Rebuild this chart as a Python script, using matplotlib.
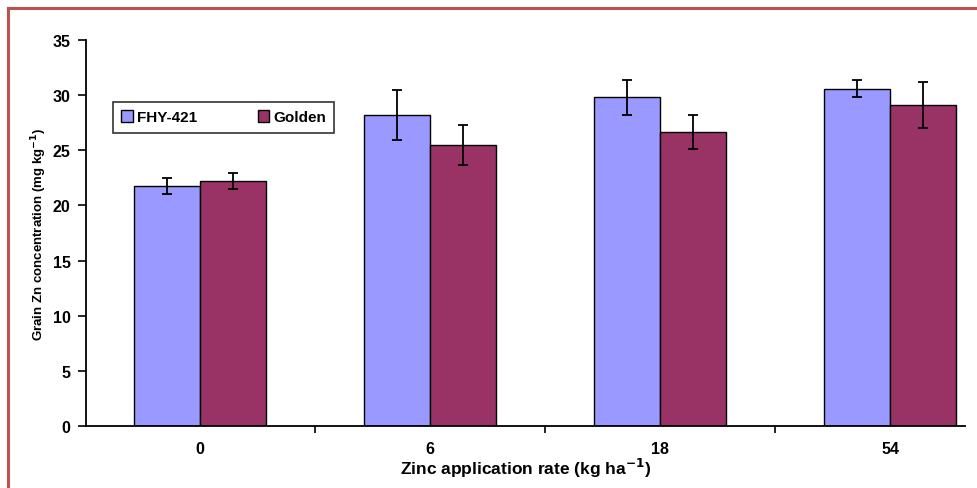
import matplotlib.pyplot as plt
import numpy as np
from matplotlib.lines import Line2D

# data
rates = ["0", "6", "18", "54"]
fhy421 = [21.8, 28.2, 29.8, 30.6]
fhy421_err = [0.72, 2.3, 1.6, 0.75]
golden = [22.2, 25.5, 26.65, 29.1]
golden_err = [0.72, 1.8, 1.55, 2.1]

plt.rcParams['font.family'] = ['Liberation Sans', 'DejaVu Sans']

fig = plt.figure(figsize=(9.77, 4.89), dpi=100)
ax = fig.add_axes([86 / 977, 1 - 427 / 489, (965 - 86) / 977, (427 - 41) / 489])

x = np.arange(len(rates))
w = 0.287
ax.bar(x - w / 2, fhy421, w, color='#9999FF', edgecolor='black', linewidth=1, label='FHY-421')
ax.bar(x + w / 2, golden, w, color='#993366', edgecolor='black', linewidth=1, label='Golden')
ax.errorbar(x - w / 2, fhy421, yerr=fhy421_err, fmt='none', ecolor='black', elinewidth=1.3, capsize=3.6, capthick=1.3)
ax.errorbar(x + w / 2, golden, yerr=golden_err, fmt='none', ecolor='black', elinewidth=1.3, capsize=3.6, capthick=1.3)

ax.set_xlim(-0.496, 3.326)
ax.set_ylim(0, 35)
ax.set_yticks(np.arange(0, 36, 5))
ax.set_xticks(x)
ax.set_xticklabels(rates, fontweight='bold', fontsize=11.5)
ax.set_xticks([0.5, 1.5, 2.5], minor=True)
ax.tick_params(axis='x', which='major', length=0, pad=11)
ax.tick_params(axis='x', which='minor', length=5, width=1.2, direction='out')
ax.tick_params(axis='y', length=6, width=1.2, direction='out', labelsize=11.5, pad=5)
for t in ax.get_yticklabels():
    t.set_fontweight('bold')

for s in ['top', 'right']:
    ax.spines[s].set_visible(False)
ax.spines['left'].set_linewidth(1.3)
ax.spines['bottom'].set_linewidth(1.3)

ax.set_xlabel('Zinc application rate (kg ha$^{\\mathbf{-1}}$)', fontweight='bold', fontsize=12.5, labelpad=0)
ax.set_ylabel('Grain Zn concentration (mg kg$^{\\mathbf{-1}}$)', fontweight='bold', fontsize=9.5, labelpad=3)

leg = ax.legend(loc='upper left', bbox_to_anchor=((113 - 86) / 879, (427 - 103) / 386),
                ncol=2, frameon=True, fancybox=False, edgecolor='black',
                prop={'weight': 'bold', 'size': 11}, handlelength=0.75, handleheight=0.75,
                columnspacing=4.0, handletextpad=0.25, borderpad=0.55, borderaxespad=0)
leg.get_frame().set_linewidth(1.2)

# red frame around the figure (top and left visible)
fig.add_artist(Line2D([8 / 977, 1.0], [1 - 9 / 489, 1 - 9 / 489], color='#C0504D', linewidth=2.2, transform=fig.transFigure))
fig.add_artist(Line2D([8 / 977, 8 / 977], [0, 1 - 9 / 489], color='#C0504D', linewidth=2.2, transform=fig.transFigure))

fig.savefig('out.png', dpi=100)
